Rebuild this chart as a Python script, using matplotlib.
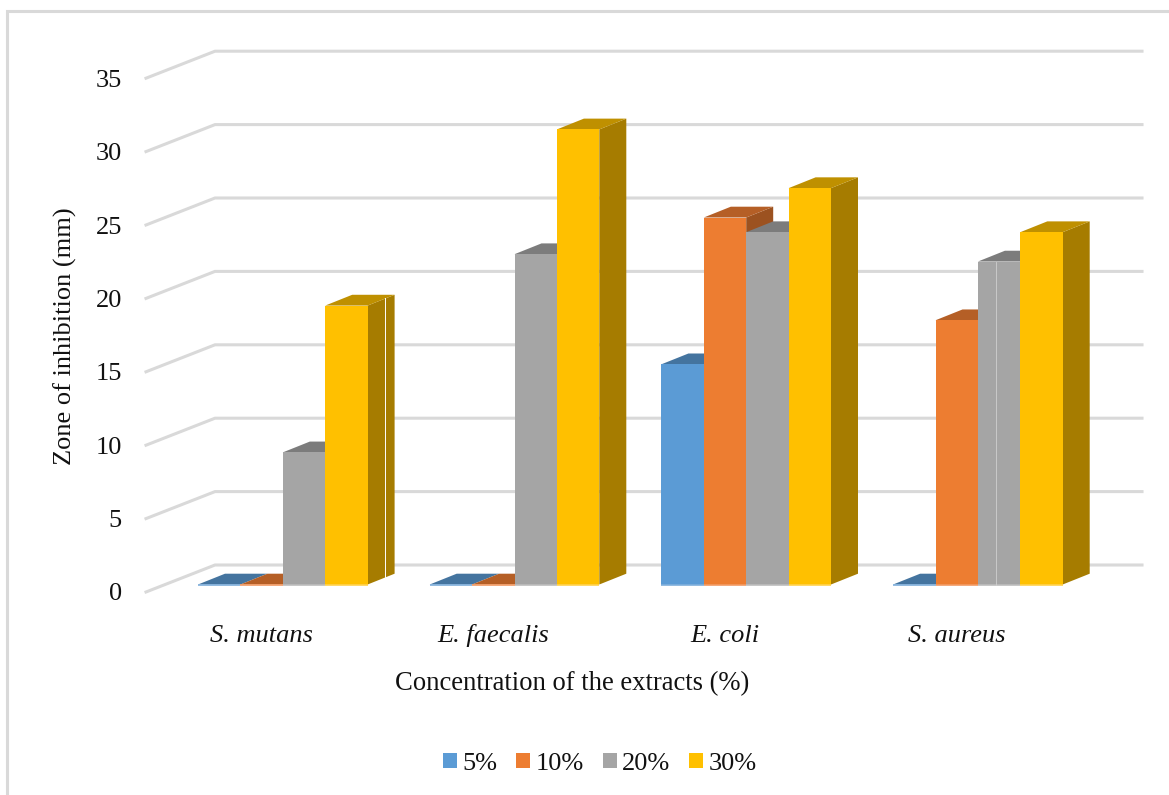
import matplotlib
matplotlib.use("Agg")
import matplotlib.pyplot as plt
from matplotlib.lines import Line2D
from matplotlib.patches import Patch, Polygon

plt.rcParams["font.family"] = ["Liberation Serif", "DejaVu Serif"]

# Zone of inhibition (mm) per organism and extract concentration
organisms = ["S. mutans", "E. faecalis", "E. coli", "S. aureus"]
concentrations = ["5%", "10%", "20%", "30%"]
values_5 = [0, 0, 15, 0]
values_10 = [0, 0, 25, 18]
values_20 = [9, 22.5, 24, 22]
values_30 = [19, 31, 27, 24]
y_ticks = [0, 5, 10, 15, 20, 25, 30, 35]

series = [values_5, values_10, values_20, values_30]
front_colors = ["#5B9BD5", "#ED7D31", "#A5A5A5", "#FFC000"]
top_colors = ["#44749F", "#B55F26", "#7C7C7C", "#BF9000"]
side_colors = ["#3A6389", "#9C5220", "#6B6B6B", "#A67C00"]
base_colors = ["#7FAFDC", "#F29A63", "#BDBDBD", "#FFD24D"]
GRID = "#D9D9D9"
INK = "#111111"
FONT = 19

W, H = 1169, 795
fig = plt.figure(figsize=(W / 100, H / 100), dpi=100, facecolor="white")

# One full-figure axes: x in category units, y in millimetres
X_UNIT = 231.7      # pixels per category
Y_UNIT = 14.68      # pixels per mm
X0 = 282.8          # pixel position of the first category centre
Y0 = 584.5          # pixel position of the bar baseline
ax = fig.add_axes([0, 0, 1, 1])
ax.set_xlim(-X0 / X_UNIT, (W - X0) / X_UNIT)
ax.set_ylim((Y0 - H) / Y_UNIT, Y0 / Y_UNIT)
ax.axis("off")

bar_w = 42.4 / X_UNIT
depth_x = 27.0 / X_UNIT
depth_y = 10.8 / Y_UNIT
label_drop = 7.5 / Y_UNIT   # front edge of the floor sits below the baseline
wall_rise = 19.5 / Y_UNIT   # back wall starts above the baseline
wall_left = (215 - X0) / X_UNIT
wall_right = (1142 - X0) / X_UNIT
front_left = (146 - X0) / X_UNIT

# Gridlines on the back wall and on the left side wall
for v in y_ticks:
    ax.plot([front_left, wall_left, wall_right],
            [v - label_drop, v + wall_rise, v + wall_rise],
            color=GRID, lw=2.2, solid_joinstyle="miter", zorder=1)
    ax.text(front_left - 24 / X_UNIT, v - label_drop - 2.5 / Y_UNIT, str(v),
            ha="right", va="center", fontsize=FONT, color=INK)

# Pseudo-3D bars, painted left to right so nearer faces overlap correctly
z = 2
for g in range(len(organisms)):
    for s, vals in enumerate(series):
        v = vals[g]
        x0 = g + (s - 2) * bar_w
        x1 = x0 + bar_w
        ax.add_patch(Polygon([(x1, 0), (x1 + depth_x, depth_y),
                              (x1 + depth_x, v + depth_y), (x1, v)],
                             fc=side_colors[s], ec="none", zorder=z))
        ax.add_patch(Polygon([(x0, v), (x1, v), (x1 + depth_x, v + depth_y),
                              (x0 + depth_x, v + depth_y)],
                             fc=top_colors[s], ec="none", zorder=z))
        ax.add_patch(Polygon([(x0, 0), (x1, 0), (x1, v), (x0, v)],
                             fc=front_colors[s], ec="none", zorder=z))
        ax.plot([x0, x1], [0, 0], color=base_colors[s], lw=1.2,
                solid_capstyle="butt", zorder=z + 0.5)
        z += 1

# Thin seams across two of the bars
ax.plot([0 + 2 * bar_w + depth_x * 0.66] * 2, [0.5, values_30[0] + 0.55],
        color="white", lw=0.7, zorder=z)
ax.plot([3 + 0.42 * bar_w] * 2, [0, values_20[3]],
        color="#CFCFCF", lw=0.6, zorder=z)

# Category labels
for g, name in enumerate(organisms):
    ax.text(g - 21 / X_UNIT, (Y0 - 635.5) / Y_UNIT, name, ha="center", va="center",
            fontsize=FONT, style="italic", color=INK)

# Axis titles
fig.text(572 / W, 1 - 684 / H, "Concentration of the extracts (%)",
         ha="center", va="center", fontsize=19.2, color=INK)
fig.text(65 / W, 1 - 336 / H, "Zone of inhibition (mm)", rotation=90,
         ha="center", va="center", fontsize=FONT, color=INK)

# Legend
handles = [Patch(fc=c, ec="none") for c in front_colors]
ax.legend(handles, concentrations, ncol=4, loc="center",
          bbox_to_anchor=(600 / W, 1 - 764 / H), bbox_transform=fig.transFigure,
          frameon=False, fontsize=FONT, handlelength=0.53, handleheight=0.53,
          handletextpad=0.2, columnspacing=0.72, labelcolor=INK,
          borderpad=0)

# Partial frame along the top and left edges
fig.add_artist(Line2D([7 / W, 7 / W, 1], [0, 1 - 11 / H, 1 - 11 / H],
                      color=GRID, lw=2.2, solid_joinstyle="miter"))

fig.savefig("out.png", dpi=100)
